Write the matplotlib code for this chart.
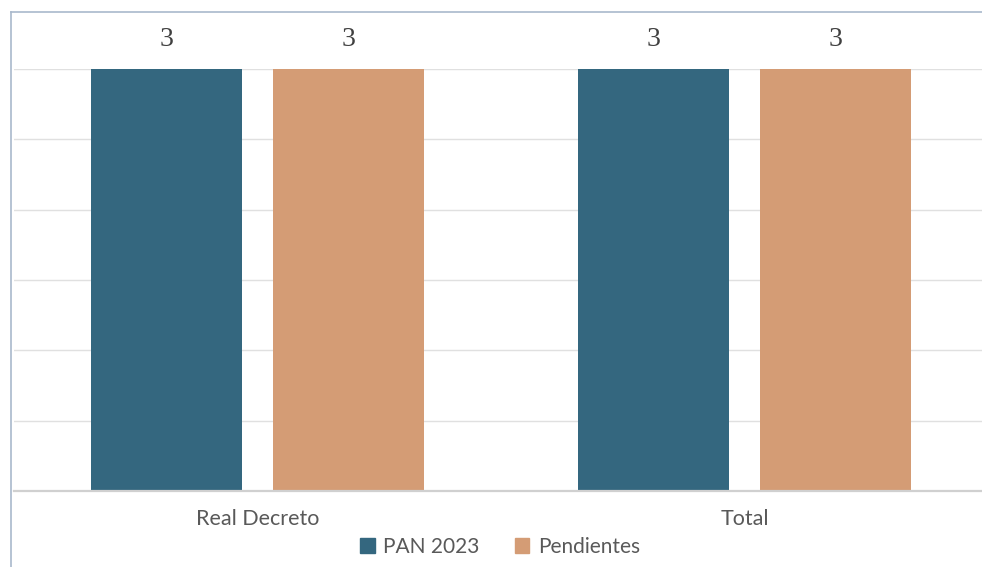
import numpy as np
import matplotlib
matplotlib.use('Agg')
import matplotlib.pyplot as plt
from matplotlib.patches import Patch
from matplotlib.lines import Line2D

categories = ['Real Decreto', 'Total']
pan_2023 = [3, 3]
pendientes = [3, 3]
series_names = ['PAN 2023', 'Pendientes']
colors = ['#34677F', '#D49C75']

W, H = 982, 567
fig = plt.figure(figsize=(W / 100, H / 100), dpi=100)

# plot area in pixels: left 14, baseline 491, top gridline 69
ax = fig.add_axes([14 / W, (H - 491) / H, (W - 14) / W, (491 - 69) / H])

x = np.arange(len(categories))
bw = 0.31
gap = 0.064
off = (bw + gap) / 2
b1 = ax.bar(x - off, pan_2023, bw, color=colors[0], zorder=3)
b2 = ax.bar(x + off, pendientes, bw, color=colors[1], zorder=3)

for bars in (b1, b2):
    for r in bars:
        ax.text(r.get_x() + r.get_width() / 2, r.get_height() + 0.12,
                f'{r.get_height():g}', ha='center', va='bottom',
                fontsize=20, color='#404040', family='Liberation Serif',
                clip_on=False)

ax.set_xlim(-0.5, -0.5 + (W - 14) / 487)
ax.set_ylim(0, 3)
ax.set_yticks(np.arange(0, 3.01, 0.5))
ax.yaxis.grid(True, color='#e0e0e0', lw=1, zorder=0)
ax.tick_params(axis='y', left=False, labelleft=False)
ax.tick_params(axis='x', length=0, pad=13)
ax.set_xticks(x)
ax.set_xticklabels(categories, fontsize=15.5, color='#595959', family='Lato')
for s in ['top', 'right', 'left']:
    ax.spines[s].set_visible(False)
ax.spines['bottom'].set_color('#d0d0d0')
ax.spines['bottom'].set_linewidth(1.6)
ax.spines['bottom'].set_zorder(4)

# outer chart frame (left and top edges)
fig.add_artist(Line2D([10.5 / W, 10.5 / W], [0, (H - 12) / H],
                      color='#a9b9cc', lw=1.2, transform=fig.transFigure))
fig.add_artist(Line2D([10.5 / W, 1], [(H - 12) / H, (H - 12) / H],
                      color='#a9b9cc', lw=1.2, transform=fig.transFigure))

handles = [Patch(color=c) for c in colors]
leg = fig.legend(handles, series_names, loc='center', bbox_to_anchor=(500 / W, 1 - 547 / H),
                 ncol=2, frameon=False, handlelength=0.7, handleheight=0.7,
                 handletextpad=0.4, columnspacing=1.7, prop={'family': 'Lato', 'size': 15})
for t in leg.get_texts():
    t.set_color('#595959')

fig.savefig('out.png', dpi=100)
